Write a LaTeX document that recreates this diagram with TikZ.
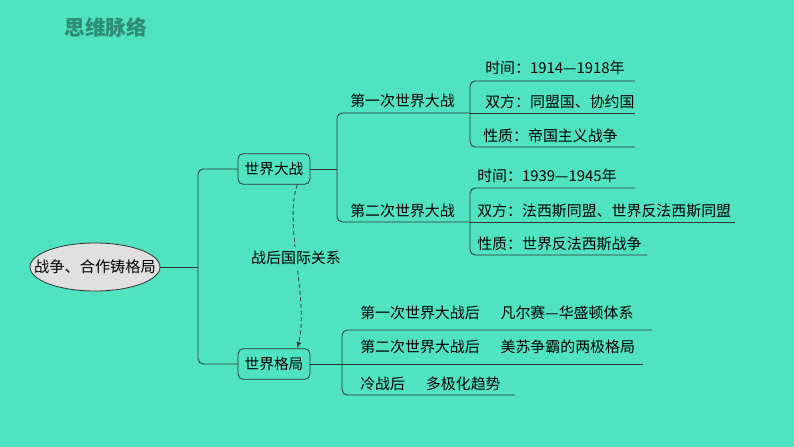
\documentclass[tikz,border=0pt]{standalone}
\usepackage{fontspec}
\setmainfont{Noto Sans CJK SC}
\usepackage{xcolor}
\usepackage{tikz}
\usetikzlibrary{arrows.meta, positioning, calc, shapes.geometric}

\definecolor{bgteal}{RGB}{80,227,193}
\definecolor{titleteal}{RGB}{46,139,118}
\definecolor{ovalgray}{RGB}{224,224,224}

\tikzset{
  box/.style={draw=black!80, line width=0.6pt, rounded corners=4pt, minimum width=54pt, minimum height=23pt, inner sep=1pt, font=\fontsize{11}{13}\selectfont},
  txt/.style={anchor=west, inner sep=0pt, font=\fontsize{11.2}{13}\selectfont},
  branch/.style={line width=0.6pt, draw=black!80}
}

\begin{document}
\begin{tikzpicture}[>=latex, x=0.75pt, y=-0.75pt]

% Background
\fill[bgteal] (0,0) rectangle (794,447);
\useasboundingbox (0,0) rectangle (794,447);

% Title
\node[font=\bfseries\fontsize{15.5}{18}\selectfont, text=titleteal] (title) at (106,28) {思维脉络};

% Central topic (text is wider than the oval allows, so the oval size is fixed)
\node[ellipse, draw=black!80, line width=0.6pt, fill=ovalgray, minimum width=97.5pt, minimum height=36pt, inner sep=0pt, font=\fontsize{11.4}{13}\selectfont] (root) at (95,267) {\makebox[0pt]{战争、合作铸格局}};

% Main branches
\node[box] (war) at (274,169) {世界大战};
\node[box] (order) at (274,364) {世界格局};

\coordinate (j0) at (198,267);
\draw[branch] (root.east) -- (j0);
\draw[branch, rounded corners=4pt] (war.west) -| (j0) |- (order.west);

% The two world wars
\node[txt] (ww1) at (350,101) {第一次世界大战};
\node[txt] (ww2) at (350,211) {第二次世界大战};

\coordinate (j1) at (337,169);
\coordinate (k1) at (470,113);
\coordinate (k2) at (470,222);
\draw[branch] (war.east) -- (j1);
\draw[branch, rounded corners=4pt] (k1) -| (j1) |- (k2);

% First world war
\node[txt] (time1) at (485,68) {时间：1914—1918年};
\node[txt] (side1) at (485,102) {双方：同盟国、协约国};
\node[txt] (kind1) at (483,136) {性质：帝国主义战争};

\coordinate (e11) at (635,81);
\coordinate (e12) at (635,113);
\coordinate (e13) at (635,147);
\draw[branch, rounded corners=4pt] (e11) -| (k1) |- (e13);
\draw[branch] (k1) -- (e12);

% Second world war
\node[txt] (time2) at (477,176) {时间：1939—1945年};
\node[txt] (side2) at (477,211) {双方：法西斯同盟、世界反法西斯同盟};
\node[txt] (kind2) at (477,244) {性质：世界反法西斯战争};

\coordinate (e21) at (635,188);
\coordinate (e22) at (735,222);
\coordinate (e23) at (647,255);
\draw[branch, rounded corners=4pt] (e21) -| (k2) |- (e23);
\draw[branch] (k2) -- (e22);

% World order
\node[txt] (ord1) at (360,313) {第一次世界大战后\hspace{1.4em}凡尔赛—华盛顿体系};
\node[txt] (ord2) at (360,347) {第二次世界大战后\hspace{1.4em}美苏争霸的两极格局};
\node[txt] (ord3) at (360,384) {冷战后\hspace{1.4em}多极化趋势};

\coordinate (j2) at (342,364);
\coordinate (e31) at (652,330);
\coordinate (e32) at (643,364);
\coordinate (e33) at (515,395);
\draw[branch] (order.east) -- (e32);
\draw[branch, rounded corners=4pt] (e31) -| (j2) |- (e33);

% Dashed link between the main branches
\draw[branch, dashed, dash pattern=on 3pt off 2pt, ->] (war.-34)
    .. controls +(-14,38) and +(12,-47) ..
    node[pos=0.47, fill=bgteal, inner sep=3pt, font=\fontsize{11.2}{13}\selectfont] (post) {战后国际关系}
    (order.34);

\end{tikzpicture}
\end{document}
